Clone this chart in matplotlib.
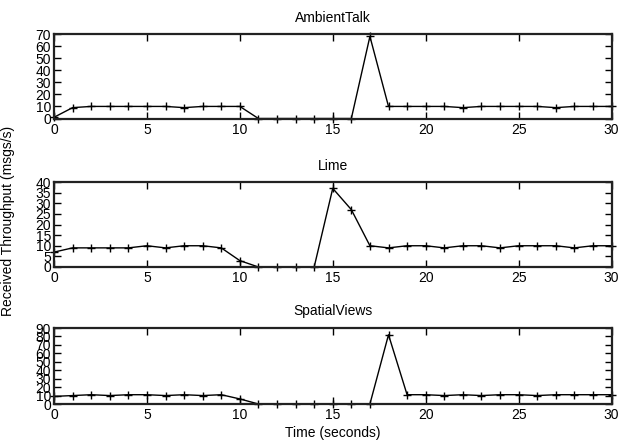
import numpy as np
import matplotlib
matplotlib.use("Agg")
import matplotlib.pyplot as plt

plt.rcParams['font.family'] = ['Liberation Sans', 'DejaVu Sans']
plt.rcParams['font.size'] = 10

# time in seconds
t = list(range(31))

ambienttalk = [1, 9, 10, 10, 10, 10, 10, 9, 10, 10, 10,
               0, 0, 0, 0, 0, 0, 68, 10, 10, 10,
               10, 9, 10, 10, 10, 10, 9, 10, 10, 10]
lime = [7, 9, 9, 9, 9, 10, 9, 10, 10, 9, 3,
        0, 0, 0, 0, 37, 27, 10, 9, 10, 10,
        9, 10, 10, 9, 10, 10, 10, 9, 10, 10]
spatialviews = [9, 10, 11, 10, 11, 11, 10, 11, 10, 11, 6,
                0, 0, 0, 0, 0, 0, 0, 82, 11, 11,
                10, 11, 10, 11, 11, 10, 11, 11, 11, 11]

titles = ["AmbientTalk", "Lime", "SpatialViews"]
series = [ambienttalk, lime, spatialviews]
ymax = [70, 40, 90]
ystep = [10, 5, 10]

fig = plt.figure(figsize=(6.19, 4.43), dpi=100)
W, H = 619.0, 443.0
# (top, bottom) of each axes in pixels
boxes = [(34, 118.5), (182, 267), (328, 404)]
left, right = 54, 611.5

for (top, bot), title, ys, ym, st in zip(boxes, titles, series, ymax, ystep):
    ax = fig.add_axes([left / W, 1 - bot / H, (right - left) / W, (bot - top) / H])
    ax.plot(t, ys, color='black', lw=1, marker='+', ms=6, mew=1, clip_on=False)
    ax.set_xlim(0, 30)
    ax.set_ylim(0, ym)
    ax.set_xticks(np.arange(0, 31, 5))
    ax.set_yticks(np.arange(0, ym + 1, st))
    ax.tick_params(direction='in', top=True, right=True, length=5, width=1,
                   pad=3, labelsize=10)
    ax.tick_params(axis='y', pad=2)
    for sp in ax.spines.values():
        sp.set_linewidth(1.6)
        sp.set_color('#222222')
    ax.set_title(title, fontsize=10, pad=9)
    if title == "SpatialViews":
        ax.set_xlabel("Time (seconds)", fontsize=10, labelpad=3)

fig.text(8 / W, 1 - 221 / H, "Received Throughput (msgs/s)", rotation=90,
         ha='center', va='center', fontsize=10)

fig.savefig("out.png", dpi=100)
